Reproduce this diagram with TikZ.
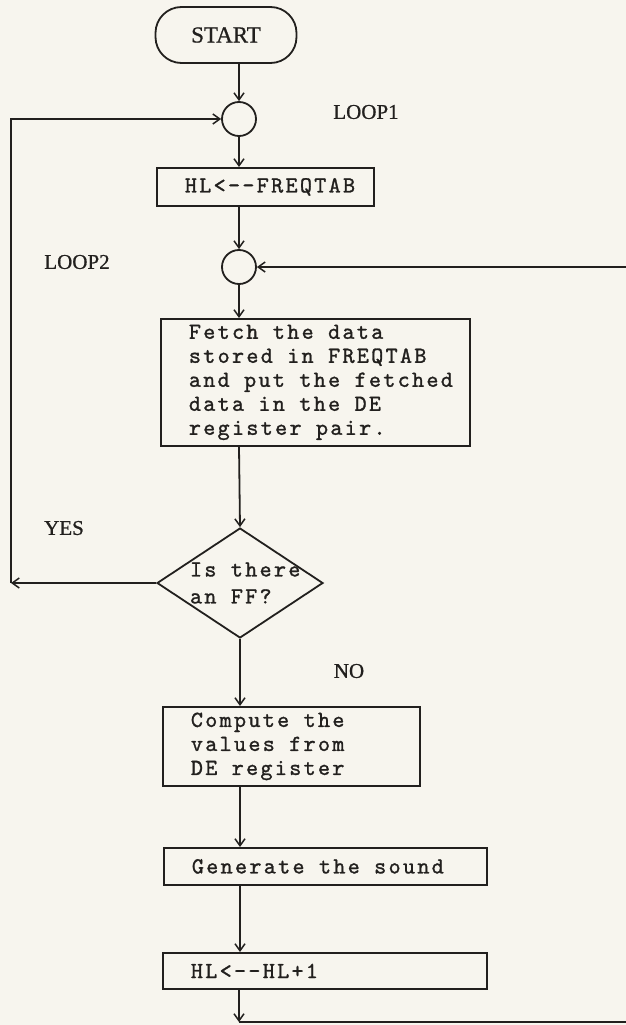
\documentclass[tikz,border=0pt]{standalone}
\usepackage{fontspec}
\setmainfont{Liberation Serif}
\newfontfamily\labelfont{Liberation Serif}[FakeBold=0.8]
\newfontfamily\boxfont{lmmono10-regular.otf}[LetterSpace=10,FakeBold=1.2]
\usepackage{tikz}
\usetikzlibrary{arrows.meta,shapes.geometric,positioning,calc}
\definecolor{papercol}{RGB}{247,245,238}
\definecolor{inkcol}{RGB}{34,32,30}
\tikzset{
  % flow line, arrow at the end
  flow/.style={draw=inkcol, line width=1.8pt, -{Straight Barb[length=7pt,width=10pt,line width=1.5pt]}},
  % start terminal
  termbox/.style={rectangle, rounded corners=26pt, draw=inkcol, line width=1.8pt, minimum width=141pt,
                  minimum height=56pt, font=\labelfont\fontsize{23}{23}\selectfont, text=inkcol},
  % connector circle
  joint/.style={circle, draw=inkcol, line width=1.8pt, minimum size=34pt, inner sep=0pt},
  % process box, text set flush left
  procbox/.style={rectangle, draw=inkcol, line width=1.8pt, minimum width=#1, text width=#1-8pt,
                  inner xsep=4pt, inner ysep=0pt, align=left, anchor=north west, text=inkcol,
                  font=\boxfont\fontsize{23}{24}\selectfont,
                  execute at begin node={\leftskip=24pt\spaceskip=14.4pt\relax}},
  procbox/.default={200pt},
  % decision
  decide/.style={diamond, draw=inkcol, line width=1.8pt, aspect=1.5, minimum width=166pt,
                 minimum height=110pt, inner sep=-8pt, text width=132pt, align=left, text=inkcol,
                 font=\boxfont\fontsize{23}{27}\selectfont,
                 execute at begin node={\leftskip=16pt\spaceskip=14.4pt\relax}},
  % loop and branch labels
  looplabel/.style={font=\labelfont\fontsize{21}{21}\selectfont, text=inkcol, inner sep=0pt},
}

\begin{document}
\begin{tikzpicture}[x=1pt, y=-1pt]
  \useasboundingbox (0,0) rectangle (626,1025);
  \clip (0,0) rectangle (626,1025);
  \fill[papercol] (0,0) rectangle (626,1025);

  % start and first loop
  \node[termbox] (start) at (226,35) {START};
  \node[joint] (loopa) at (239,119) {};
  \node[looplabel] at (366,112) {LOOP1};
  \node[procbox=217pt, minimum height=38pt] (hlset) at (156,167) {HL<-{}-FREQTAB};

  % second loop
  \node[joint] (loopb) at (239,267) {};
  \node[looplabel] at (77,262) {LOOP2};
  \node[procbox=309pt, minimum height=127pt] (fetch) at (160,318)
    {Fetch the data\\stored in FREQTAB\\and put the fetched\\data in the DE\\register pair.};

  % test for the end mark
  \node[decide] (test) at (240,583) {Is there\\an FF?};
  \node[looplabel] at (64,528) {YES};
  \node[looplabel] at (349,671) {NO};

  \node[procbox=257pt, minimum height=79pt] (compute) at (162,706)
    {Compute the\\values from\\DE register};
  \node[procbox=323pt, minimum height=37pt] (sound) at (163,847) {Generate the sound};
  \node[procbox=324pt, minimum height=36pt] (hlinc) at (162,952) {HL<-{}-HL+1};

  \coordinate (yesend) at (11,583);
  \coordinate (back) at (239,1022);

  % main line
  \draw[flow] (start.south -| loopa.north) -- (loopa.north);
  \draw[flow] (loopa.south) -- (loopa.south |- hlset.north);
  \draw[flow] (loopb.north |- hlset.south) -- (loopb.north);
  \draw[flow] (loopb.south) -- (loopb.south |- fetch.north);
  \draw[flow] (loopb.south |- fetch.south) -- (test.north);
  \draw[flow] (test.south) -- (test.south |- compute.north);
  \draw[flow] (test.south |- compute.south) -- (test.south |- sound.north);
  \draw[flow] (test.south |- sound.south) -- (test.south |- hlinc.north);
  \draw[flow] (back |- hlinc.south) -- (back);

  % loop backs
  \draw[flow] (test.west) -- (yesend);
  \draw[flow] (yesend) |- (loopa.west);
  \draw[flow] (back) -- ++(420,0) |- (loopb.east);
\end{tikzpicture}
\end{document}
